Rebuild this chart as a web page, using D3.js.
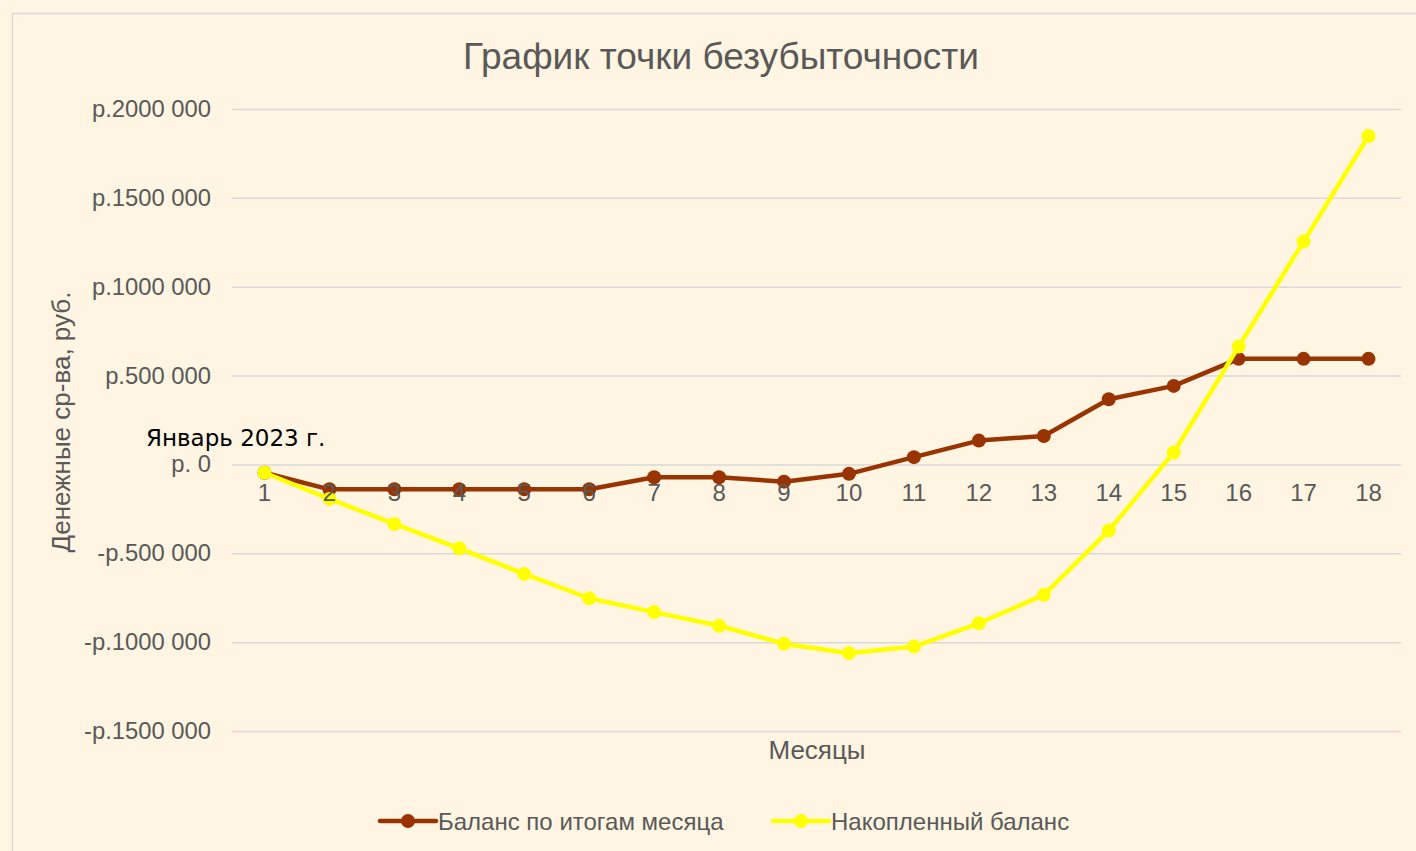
<!DOCTYPE html>
<html>
<head>
<meta charset="utf-8">
<script src="https://cdn.jsdelivr.net/npm/d3@7"></script>
<style>
  html, body { margin: 0; padding: 0; background: #fff5e2; }
  svg { display: block; }
  text { font-family: "Liberation Sans", Arial, sans-serif; }
</style>
</head>
<body>
<div id="chart"></div>
<script>
// Months on the x axis
var months = d3.range(1, 19)
// Balance at month end, rub.
var monthBalance = [-47000, -140000, -140000, -140000, -140000, -140000, -72000, -72000, -97000,
  -53000, 41000, 134000, 160000, 367000, 442000, 594000, 594000, 594000]
// Accumulated balance, rub.
var accBalance = [-47000, -194000, -335000, -472000, -616000, -753000, -831000, -908000, -1009000,
  -1062000, -1025000, -894000, -734000, -372000, 67000, 663000, 1254000, 1848000]
// Y axis ticks
var yTicks = [-1500000, -1000000, -500000, 0, 500000, 1000000, 1500000, 2000000]

var seriesNames = ['Баланс по итогам месяца', 'Накопленный баланс']
var colors = ['#993300', '#ffff00']

var width = 1416, height = 851
var textColor = '#595959'

var svg = d3.select('#chart').append('svg')
  .attr('width', width)
  .attr('height', height)

// background + chart border
svg.append('rect').attr('width', width).attr('height', height).attr('fill', '#fff5e2')
svg.append('rect')
  .attr('x', 12.5).attr('y', 13.5)
  .attr('width', width + 20).attr('height', height + 20)
  .attr('fill', 'none').attr('stroke', '#d9d9d9').attr('stroke-width', 1.5)

var x = d3.scalePoint()
  .domain(months)
  .range([232, 1401])
  .padding(0.5)

var y = d3.scaleLinear()
  .domain([-1500000, 2000000])
  .range([731, 109])

// title
svg.append('text')
  .attr('x', 721).attr('y', 69)
  .attr('text-anchor', 'middle')
  .attr('font-size', 37)
  .attr('fill', textColor)
  .text('График точки безубыточности')

// gridlines
svg.append('g')
  .selectAll('line')
  .data(yTicks)
  .enter().append('line')
  .attr('x1', 232).attr('x2', 1401)
  .attr('y1', d => y(d) + 0.5).attr('y2', d => y(d) + 0.5)
  .attr('stroke', '#d9d9d9').attr('stroke-width', 1.5)

// y axis labels
function fmt(v) {
  if (v == 0) return 'р. 0'
  var a = Math.abs(v)
  var s = Math.floor(a / 1000) + ' ' + d3.format('03d')(a % 1000)
  return (v < 0 ? '-' : '') + 'р.' + s
}
svg.append('g')
  .selectAll('text')
  .data(yTicks)
  .enter().append('text')
  .attr('x', 211).attr('y', d => y(d) + 8)
  .attr('text-anchor', 'end')
  .attr('font-size', 23.8)
  .attr('fill', textColor)
  .text(fmt)

// y axis title
svg.append('text')
  .attr('transform', 'translate(70,422) rotate(-90)')
  .attr('text-anchor', 'middle')
  .attr('font-size', 26)
  .attr('fill', textColor)
  .text('Денежные ср-ва, руб.')

// x axis title
svg.append('text')
  .attr('x', 817).attr('y', 759)
  .attr('text-anchor', 'middle')
  .attr('font-size', 26)
  .attr('fill', textColor)
  .text('Месяцы')

// series
var allSeries = [monthBalance, accBalance]
var line = d3.line()
  .x((d, i) => x(months[i]))
  .y(d => y(d))

allSeries.forEach((s, k) => {
  var g = svg.append('g')
  g.append('path')
    .datum(s)
    .attr('d', line)
    .attr('fill', 'none')
    .attr('stroke', colors[k])
    .attr('stroke-width', 4.5)
    .attr('stroke-linejoin', 'round')
  g.selectAll('circle')
    .data(s)
    .enter().append('circle')
    .attr('cx', (d, i) => x(months[i]))
    .attr('cy', d => y(d))
    .attr('r', 7)
    .attr('fill', colors[k])
})

// x tick labels (drawn on top, like the original)
svg.append('g')
  .selectAll('text')
  .data(months)
  .enter().append('text')
  .attr('x', d => x(d)).attr('y', y(0) + 36.5)
  .attr('text-anchor', 'middle')
  .attr('font-size', 24)
  .attr('fill', textColor)
  .text(d => d)

// annotation
svg.append('text')
  .attr('x', 146).attr('y', 446)
  .style('font-family', '"DejaVu Sans", sans-serif')
  .attr('font-size', 23)
  .attr('fill', '#000')
  .text('Январь 2023 г.')

// legend
var legendX = [380, 773]
var leg = svg.append('g')
  .selectAll('g')
  .data(seriesNames)
  .enter().append('g')
  .attr('transform', (d, i) => 'translate(' + legendX[i] + ',821)')
leg.append('line')
  .attr('x1', 0).attr('x2', 56)
  .attr('stroke', (d, i) => colors[i])
  .attr('stroke-width', 4.5)
  .attr('stroke-linecap', 'round')
leg.append('circle')
  .attr('cx', 28).attr('r', 7)
  .attr('fill', (d, i) => colors[i])
leg.append('text')
  .attr('x', 58).attr('y', 8.5)
  .attr('font-size', 24)
  .attr('fill', textColor)
  .text(d => d)
</script>
</body>
</html>
